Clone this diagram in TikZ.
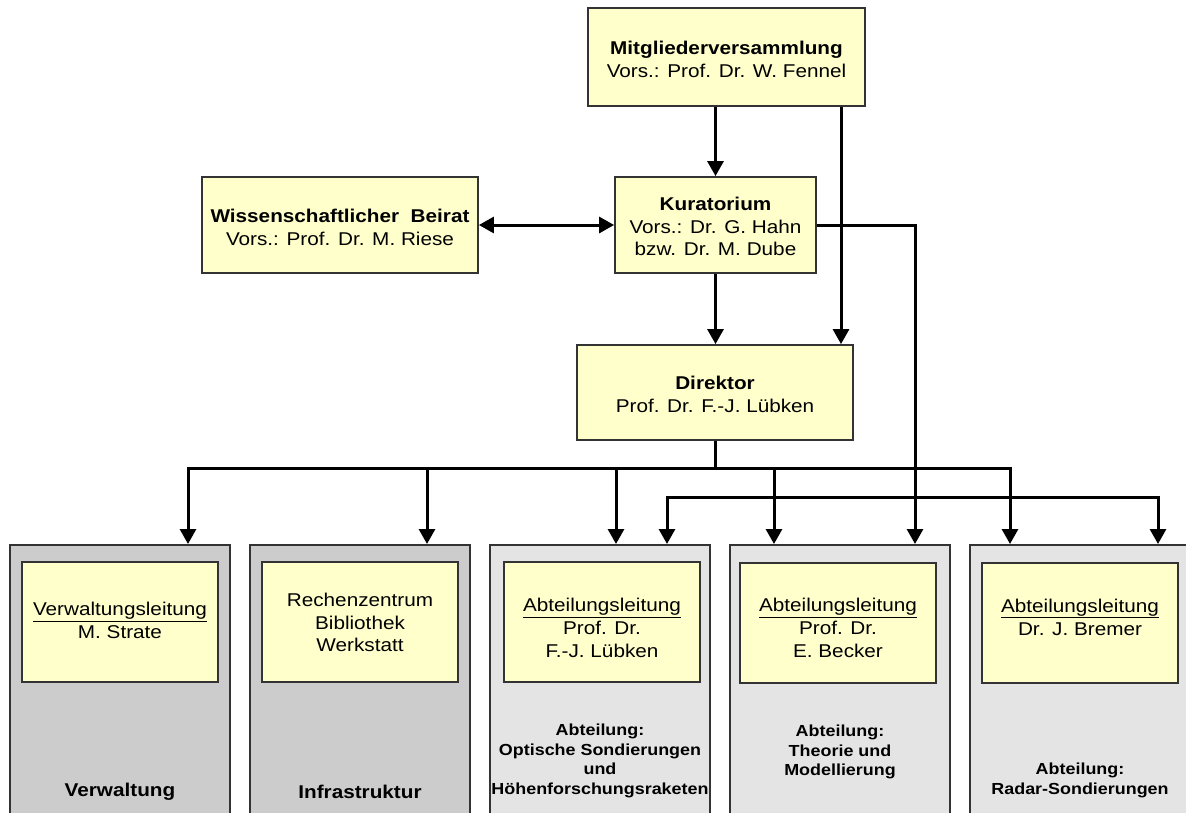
\documentclass[tikz,border=0pt]{standalone}
\usepackage{fontspec}
\setmainfont{Liberation Sans}[FakeStretch=1.12]
\usetikzlibrary{arrows.meta}
\definecolor{boxyellow}{HTML}{FFFFCC}
\definecolor{outerdarkfill}{HTML}{CCCCCC}
\definecolor{outerlightfill}{HTML}{E4E4E4}
\definecolor{edgegray}{HTML}{333333}
\newcommand{\orgmainfont}{\fontsize{18.5}{22.8}\selectfont}
\newcommand{\orgbigbold}{\fontsize{18.5}{22}\selectfont\bfseries}
\newcommand{\orgsmallbold}{\fontsize{16}{19.6}\selectfont\bfseries}
\begin{document}
\begin{tikzpicture}[x=1pt,y=-1pt,
  ybox/.style={draw=edgegray, line width=1.8pt, fill=boxyellow, inner sep=0pt, align=center, font=\orgmainfont},
  outerdark/.style={draw=edgegray, line width=1.8pt, fill=outerdarkfill, inner sep=0pt, minimum width=220pt, minimum height=290pt, anchor=north},
  outerlight/.style={draw=edgegray, line width=1.8pt, fill=outerlightfill, inner sep=0pt, minimum width=220pt, minimum height=290pt, anchor=north},
  innerbox/.style={ybox, minimum width=196pt, minimum height=120pt},
  intext/.style={align=center, font=\orgmainfont, inner sep=0pt},
  boxtext/.style={align=center, font=\orgmainfont, inner sep=0pt},
  biglab/.style={align=center, font=\orgbigbold, inner sep=0pt},
  smalllab/.style={align=center, font=\orgsmallbold, inner sep=0pt},
  conn/.style={line width=3pt, line join=miter, -{Triangle[length=15pt,width=16pt]}},
  dconn/.style={line width=3pt, {Triangle[length=15pt,width=16pt]}-{Triangle[length=15pt,width=16pt]}},
  plainline/.style={line width=3pt, line join=miter}
]
\clip (0,0) rectangle (1186,812);
\fill[white] (0,0) rectangle (1186,812);

% top boxes
\node[ybox, minimum width=277pt, minimum height=98pt] (M) at (726.5,57) {};
\node[boxtext] (tM) at (726.5,59)
  {\textbf{Mitgliederversammlung}\\Vors.: Prof. Dr. W. Fennel};
\node[ybox, minimum width=201pt, minimum height=96pt] (K) at (715.5,225) {};
\node[boxtext] (tK) at (715.5,226.5)
  {\textbf{Kuratorium}\\Vors.: Dr. G. Hahn\\bzw. Dr. M. Dube};
\node[ybox, minimum width=276pt, minimum height=96pt] (WB) at (340,225) {};
\node[boxtext] (tWB) at (340,227)
  {\textbf{Wissenschaftlicher\ \ Beirat}\\Vors.: Prof. Dr. M. Riese};
\node[ybox, minimum width=276pt, minimum height=95pt] (D) at (715,392.5) {};
\node[boxtext] (tD) at (715,394.5)
  {\textbf{Direktor}\\Prof. Dr. F.-J. Lübken};

% bottom outer boxes
\node[outerdark] (oV) at (120,544) {};
\node[outerdark] (oI) at (360,544) {};
\node[outerlight] (oO) at (600,544) {};
\node[outerlight] (oT) at (840,544) {};
\node[outerlight] (oR) at (1080,544) {};

% inner boxes
\node[innerbox] (iV) at (120,622) {};
\node[innerbox] (iI) at (360,622) {};
\node[innerbox] (iO) at (602,622) {};
\node[innerbox] (iT) at (838,623) {};
\node[innerbox] (iR) at (1080,623) {};

\node[intext] (tV) at (120,620.5) {\underline{Verwaltungsleitung}\\M. Strate};
\node[intext] (tI) at (360,622.5) {Rechenzentrum\\Bibliothek\\Werkstatt};
\node[intext] (tO) at (602,628) {\underline{Abteilungsleitung}\\Prof. Dr.\\F.-J. Lübken};
\node[intext] (tT) at (838,628) {\underline{Abteilungsleitung}\\Prof. Dr.\\E. Becker};
\node[intext] (tR) at (1080,617) {\underline{Abteilungsleitung}\\Dr. J. Bremer};

\node[biglab] (lV) at (120,792) {Verwaltung};
\node[biglab] (lI) at (360,792) {Infrastruktur};
\node[smalllab] (lO) at (600,761) {Abteilung:\\Optische Sondierungen\\und\\Höhenforschungsraketen};
\node[smalllab] (lT) at (840,752) {Abteilung:\\Theorie und\\Modellierung};
\node[smalllab] (lR) at (1080,780.5) {Abteilung:\\Radar-Sondierungen};

% connectors
\coordinate (mx) at (841,0);
\coordinate (kx) at (915,0);
\coordinate (b1) at (715,468);
\coordinate (b2) at (915,497);

\draw[conn] (K.north |- M.south) -- (K.north);
\draw[conn] (M.south -| mx) -- (D.north -| mx);
\draw[conn] (K.south) -- (K.south |- D.north);
\draw[dconn] (WB.east) -- (K.west);
\draw[conn] (K.east) -- (K.east -| kx) -- (kx |- oT.north);

\draw[plainline] (D.south) -- (b1);
\draw[conn] (b1) -| ([xshift=68pt]oV.north);
\draw[conn] (b1) -| ([xshift=67pt]oI.north);
\draw[conn] (b1) -| ([xshift=16pt]oO.north);
\draw[conn] (b1) -| ([xshift=-66pt]oT.north);
\draw[conn] (b1) -| ([xshift=-70pt]oR.north);

\draw[conn] (b2) -| ([xshift=67pt]oO.north);
\draw[conn] (b2) -| ([xshift=78pt]oR.north);
\end{tikzpicture}
\end{document}
